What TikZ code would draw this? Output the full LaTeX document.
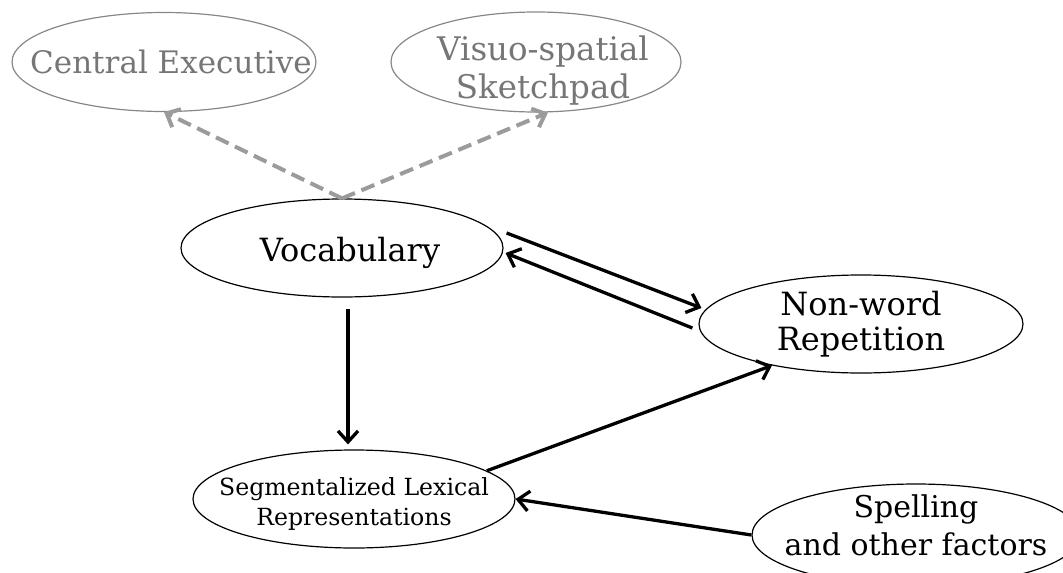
\documentclass[tikz,border=0pt]{standalone}
\usepackage{fontspec}
\setmainfont{DejaVu Serif}
\usetikzlibrary{shapes.geometric,arrows.meta}
\definecolor{rimgray}{RGB}{135,135,135}
\definecolor{wordgray}{RGB}{118,118,118}
\definecolor{dashgray}{RGB}{155,155,155}
\tikzset{
  blob/.style={ellipse,draw,line width=1.2pt,inner xsep=-60pt,inner ysep=-40pt,align=center},
  faint/.style={blob,draw=rimgray,text=wordgray},
  link/.style={-{Straight Barb[length=11pt,width=20pt]},line width=3.3pt},
  hint/.style={-{Straight Barb[length=11pt,width=20pt]},line width=4pt,dashgray,dash pattern=on 14pt off 7pt},
}
\begin{document}
\begin{tikzpicture}[x=1pt,y=-1pt]
\useasboundingbox (0,0) rectangle (1063,573);

% top, the grey ones
\node[faint,minimum width=304pt,minimum height=99pt,font=\fontsize{31}{36}\selectfont] (ce) at (164,62) {\hspace*{14pt}Central Executive};
\node[faint,minimum width=290pt,minimum height=100pt,font=\fontsize{32.5}{38}\selectfont] (vs) at (536,62) {\hspace*{14pt}\rule{0pt}{42pt}Visuo-spatial\\\hspace*{14pt}Sketchpad};

\node[blob,minimum width=322pt,minimum height=98pt,font=\fontsize{32}{37}\selectfont] (voc) at (342,248) {\hspace*{16pt}\rule{0pt}{34pt}Vocabulary};
\node[blob,minimum width=324pt,minimum height=98pt,font=\fontsize{32}{35}\selectfont] (nw) at (861,324) {Non-word\\Repetition};
\node[blob,minimum width=322pt,minimum height=98pt,font=\fontsize{23.6}{30}\selectfont] (seg) at (354,499) {\rule{0pt}{28pt}Segmentalized Lexical\\Representations};
\node[blob,minimum width=328pt,minimum height=102pt,font=\fontsize{30}{38}\selectfont] (spell) at (916,535) {Spelling\\and other factors\rule[-20pt]{0pt}{20pt}};

\draw[hint] (voc.north) -- (ce.south);
\draw[hint] (voc.north) -- ([xshift=12pt]vs.south);

\draw[link] ([xshift=3pt,yshift=15pt]voc.east) -- ([xshift=3pt,yshift=16pt]nw.west);
\draw[link] ([xshift=-6pt,yshift=-4pt]nw.west) -- ([xshift=2pt,yshift=-5pt]voc.east);
\draw[link] ([xshift=6pt,yshift=-11pt]voc.south) -- ([xshift=-6pt,yshift=5pt]seg.north);
\draw[link] (seg.12) -- (nw.205);
\draw[link] (spell.west) -- (seg.east);
\end{tikzpicture}
\end{document}
